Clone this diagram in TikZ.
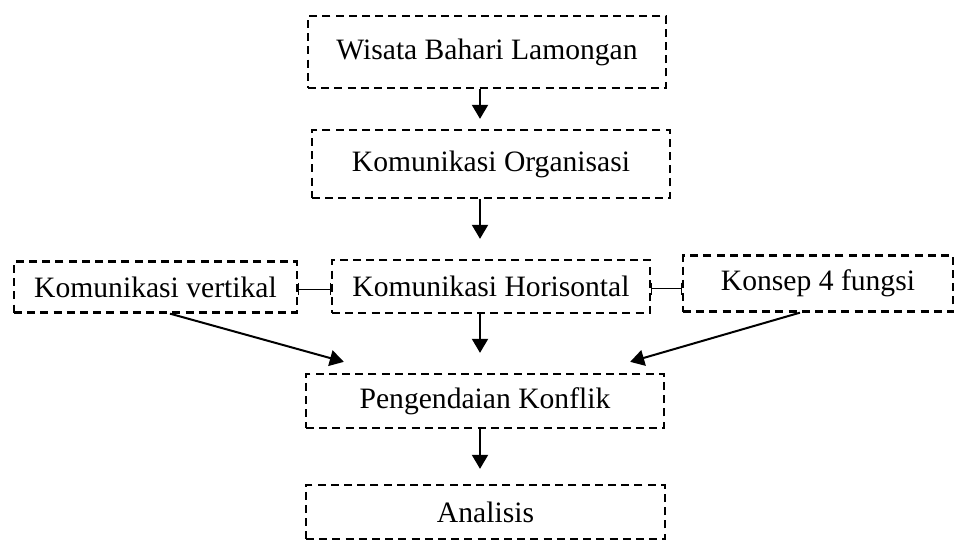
\documentclass[tikz,border=0pt]{standalone}
\usepackage{fontspec}
\setmainfont{Liberation Serif}
\usetikzlibrary{arrows.meta}

\tikzset{
  kotak/.style={draw, line width=1.15pt, dash pattern=on 4pt off 2.6pt, inner sep=0pt,
    font=\fontsize{14.8}{17}\selectfont},
  panah/.style={-{Triangle[length=7pt,width=8pt]}, line width=1pt},
  hubung/.style={{Bar[width=6pt]}-{Bar[width=6pt]}, line width=0.5pt}
}

\begin{document}
\begin{tikzpicture}[x=0.5pt,y=-0.5pt]
\useasboundingbox (0,0) rectangle (960,541);

\node[kotak, minimum width=179pt, minimum height=36pt](wisata) at (487,52) {\raisebox{2.5pt}{Wisata Bahari Lamongan}};
\node[kotak, minimum width=179pt, minimum height=34pt](organisasi) at (491,164) {Komunikasi Organisasi};

\node[kotak, minimum width=141.5pt, minimum height=25.5pt](vertikal) at (155.5,287) {Komunikasi vertikal};
\node[kotak, minimum width=159pt, minimum height=26.5pt](horisontal) at (491,286.5) {Komunikasi Horisontal};
\node[kotak, minimum width=135pt, minimum height=28pt](fungsi) at (818,283.5) {Konsep 4 fungsi};

\node[kotak, minimum width=179pt, minimum height=27pt](pengendaian) at (485,401) {Pengendaian Konflik};
\node[kotak, minimum width=179.5pt, minimum height=27pt](analisis) at (485.5,512) {Analisis};

% panah turun
\draw[panah] ([xshift=-3.5pt]wisata.south) -- ([xshift=-3.5pt,yshift=5pt]wisata.south |- organisasi.north);
\draw[panah] ([xshift=-5.5pt]organisasi.south) -- ([xshift=-5.5pt,yshift=10pt]organisasi.south |- horisontal.north);
\draw[panah] ([xshift=-5.5pt]horisontal.south) -- ([xshift=-5.5pt,yshift=10pt]horisontal.south |- pengendaian.north);
\draw[panah] ([xshift=-2.5pt]pengendaian.south) -- ([xshift=-2.5pt,yshift=7.5pt]pengendaian.south |- analisis.north);

% panah miring
\draw[panah] ([xshift=7.25pt]vertikal.south) -- ([xshift=19.5pt,yshift=5.5pt]pengendaian.north west);
\draw[panah] ([xshift=-9pt]fungsi.south) -- ([xshift=-17.5pt,yshift=5.5pt]pengendaian.north east);

% penghubung
\draw[hubung] ([yshift=-1pt]vertikal.east) -- ([yshift=-1pt]vertikal.east -| horisontal.west);
\draw[hubung] ([yshift=-1pt]horisontal.east) -- ([yshift=-1pt]horisontal.east -| fungsi.west);

\end{tikzpicture}
\end{document}
